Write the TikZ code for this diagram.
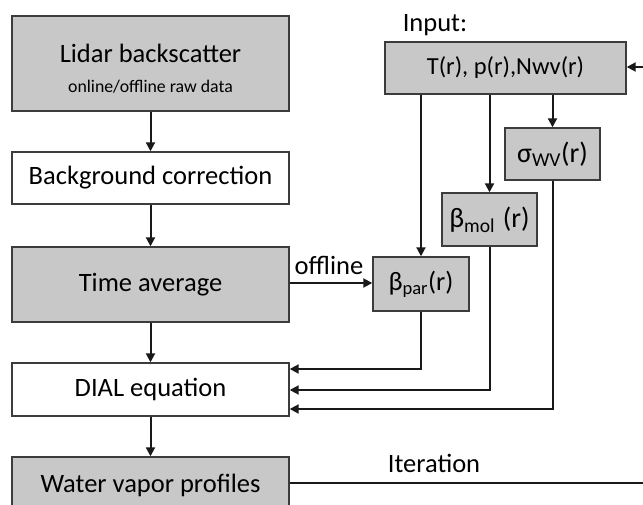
\documentclass[tikz,border=0pt]{standalone}
\usepackage{fontspec}
\setmainfont{Carlito}
\usetikzlibrary{arrows.meta}
\definecolor{boxgray}{RGB}{200,200,200}
\definecolor{edgegray}{RGB}{60,60,60}
\tikzset{
  procbox/.style={draw=edgegray, line width=1.4pt, rectangle, inner sep=0pt,
    align=center, font=\fontsize{26.5}{30}\selectfont},
  graybox/.style={procbox, fill=boxgray},
  whitebox/.style={procbox, fill=white},
  coefbox/.style={graybox, font=\fontsize{28}{32}\selectfont},
  flow/.style={line width=2pt, draw=black!90},
  flowarrow/.style={flow, -{Triangle[length=9pt,width=9pt]}},
  lbl/.style={font=\fontsize{26.5}{30}\selectfont, inner sep=0pt}
}
\begin{document}
\begin{tikzpicture}[x=1pt, y=-1pt]
\useasboundingbox (0,0) rectangle (643,505);

% main processing chain
\node[graybox, minimum width=277pt, minimum height=95pt] (lidar) at (150.5,63.5) {};
\node[lbl] (lidartitle) at (150.5,53) {Lidar backscatter};
\node[inner sep=0pt, font=\fontsize{17.8}{20}\selectfont] (lidarsub) at (150.5,87) {online/offline raw data};
\node[whitebox, minimum width=277pt, minimum height=52pt] (bg) at (150.5,178) {Background correction};
\node[graybox, minimum width=277pt, minimum height=75pt] (time) at (150.5,284.5) {Time average};
\node[whitebox, minimum width=277pt, minimum height=53pt] (dial) at (150.5,389.5) {DIAL equation};
\node[graybox, minimum width=277pt, minimum height=56pt] (wv) at (150.5,485) {Water vapor profiles};

% input parameters
\node[lbl] (inlabel) at (435,25) {Input:};
\node[graybox, minimum width=241pt, minimum height=52pt, font=\fontsize{24.5}{28}\selectfont] (input) at (505.5,68) {T(r), p(r),Nwv(r)};
\node[coefbox, minimum width=95pt, minimum height=52pt] (sigma) at (552.5,154) {σ\textsubscript{WV}(r)};
\node[coefbox, minimum width=95pt, minimum height=53pt] (bmol) at (489.5,219.5) {β\textsubscript{mol}\;(r)};
\node[graybox, minimum width=96pt, minimum height=54pt] (bpar) at (421,284) {β\textsubscript{par}(r)};

% right edge anchors for the iteration loop
\coordinate (loopin) at (643,67);
\coordinate (loopout) at (643,483);

% vertical chain
\draw[flowarrow] (lidar) -- (bg);
\draw[flowarrow] (bg) -- (time);
\draw[flowarrow] (time) -- (dial);
\draw[flowarrow] (dial) -- (wv);

% offline branch
\draw[flowarrow] ([yshift=1.5pt]time.east) -- ([yshift=1.5pt]time.east -| bpar.west);
\node[lbl] (offl) at (329,265) {offline};

% inputs to coefficient boxes
\draw[flowarrow] (bpar.north |- input.south) -- (bpar.north);
\draw[flowarrow] (bmol.north |- input.south) -- (bmol.north);
\draw[flowarrow] (sigma.north |- input.south) -- (sigma.north);

% coefficients into the DIAL equation
\draw[flowarrow] (bpar.south) |- ([yshift=20.5pt]dial.east);
\draw[flowarrow] (bmol.south) |- ([yshift=-0.5pt]dial.east);
\draw[flowarrow] (sigma.south) |- ([yshift=-19.5pt]dial.east);

% iteration
\draw[flow] (wv.east |- loopout) -- (loopout);
\node[lbl] (iter) at (434,463) {Iteration};
\draw[flowarrow] (loopin) -- (input.east |- loopin);
\end{tikzpicture}
\end{document}
